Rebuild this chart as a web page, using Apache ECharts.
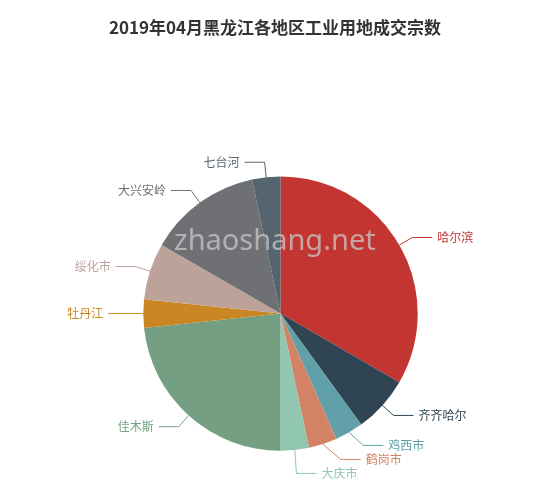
<!DOCTYPE html>
<html lang="zh">
  <head>
    <meta charset="UTF-8" />
    <title>ECharts</title>
    <script src="https://cdn.jsdelivr.net/npm/echarts@6/dist/echarts.min.js"></script>
    <style>html,body{margin:0;padding:0;}</style>
  </head>
  <body>
    <div id="main" style="width: 550px; height: 490px"></div>
    <script>
      var regions = ["哈尔滨", "齐齐哈尔", "鸡西市", "鹤岗市", "大庆市", "佳木斯", "牡丹江", "绥化市", "大兴安岭", "七台河"];
      var counts = [40, 8, 4, 4, 4, 28, 4, 8, 16, 4];
      var colors = ["#c23531", "#2f4554", "#61a0a8", "#d48265", "#91c7ae", "#749f83", "#ca8622", "#bda29a", "#6e7074", "#546570"];

      var myChart = echarts.init(document.getElementById("main"));
      var datas = [];
      for (var i = 0; i < regions.length; i++) {
        datas.push({ name: regions[i], value: counts[i] });
      }
      var option = {
        color: colors,
        title: {
          text: "2019年04月黑龙江各地区工业用地成交宗数",
          left: "center",
          top: 14,
          textStyle: { fontSize: 17, fontWeight: "bold", color: "#333", fontFamily: "Noto Sans CJK SC" },
        },
        graphic: [{
          type: "text", left: 174, top: 227, z: 100,
          style: { text: "zhaoshang.net", fontSize: 29, fill: "rgba(200,200,200,0.75)", fontFamily: "Noto Sans" },
        }],
        series: [{
          type: "pie",
          radius: "56%",
          center: ["51%", "64%"],
          startAngle: 90,
          data: datas,
          label: { fontSize: 12, color: "inherit", fontFamily: "Noto Sans CJK SC" },
          labelLine: { length: 15, length2: 20 },
        }],
      };
      myChart.setOption(option);
    </script>
  </body>
</html>
